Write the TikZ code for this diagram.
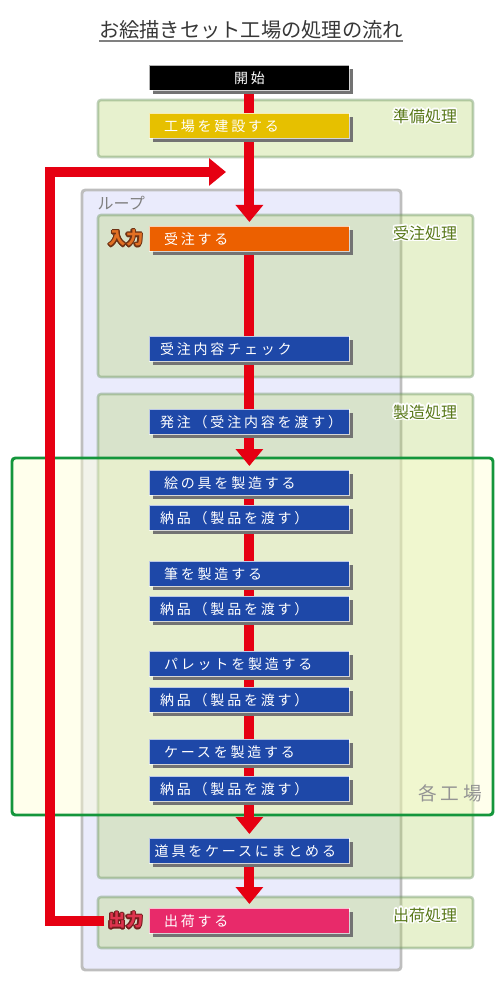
\documentclass[tikz,border=0pt]{standalone}
\usepackage{fontspec}
\setmainfont{Noto Sans CJK JP}
\newfontfamily\boxfont[LetterSpace=20]{Noto Sans CJK JP}
\usepackage{contour}
\contourlength{1.1pt}
\usetikzlibrary{arrows.meta,shadows}

\pgfdeclarelayer{groups}
\pgfdeclarelayer{flow}
\pgfsetlayers{groups,flow,main}

\definecolor{flowred}{RGB}{230,0,18}
\definecolor{procblue}{RGB}{30,72,168}
\definecolor{buildyellow}{RGB}{230,192,0}
\definecolor{orderorange}{RGB}{236,96,0}
\definecolor{shippink}{RGB}{232,42,106}
\definecolor{loopfill}{RGB}{234,235,252}
\definecolor{loopedge}{RGB}{190,190,190}
\definecolor{groupfill}{RGB}{176,210,93}
\definecolor{groupedge}{RGB}{110,150,100}
\definecolor{grouptext}{RGB}{88,120,24}
\definecolor{factoryedge}{RGB}{20,150,60}
\definecolor{factoryfill}{RGB}{255,255,208}
\definecolor{titlegray}{RGB}{55,55,55}
\definecolor{inedge}{RGB}{110,50,20}
\definecolor{outedge}{RGB}{115,28,28}

\tikzset{
  procbox/.style={anchor=north west, fill=procblue, draw=white, draw opacity=0.7,
    line width=0.6pt, text=white, font=\boxfont\fontsize{10.5}{12}\selectfont,
    text width=134pt, inner xsep=8pt, inner ysep=0pt, minimum height=18.75pt, align=left,
    drop shadow={shadow xshift=2.4pt, shadow yshift=-2.4pt, fill=black!55, opacity=1}},
  indent/.style={text width=128pt, inner xsep=11pt},
  group/.style={draw=groupedge, draw opacity=0.45, line width=1.9pt, fill=groupfill,
    fill opacity=0.3, rounded corners=2.2pt},
  grouplabel/.style={text=grouptext, font=\fontsize{12}{14}\selectfont},
  iolabel/.style={inner sep=0pt, font=\bfseries\fontsize{13}{15}\selectfont},
  flowline/.style={draw=flowred, line width=7.5pt},
  flowarrow/.style={flowline, -{Triangle[width=20pt,length=12.75pt]}, shorten >=3pt},
}

\begin{document}
\begin{tikzpicture}[x=0.75pt,y=0.75pt,yscale=-1]
\path[use as bounding box] (0,0) rectangle (500,1005);

% title
\node (title) at (251,30) [text=titlegray, font=\fontsize{15.2}{18}\selectfont] {お絵描きセット工場の処理の流れ};
\draw[gray, line width=1.5pt] (99,41) -- (403,41);

% process boxes
\node (start) [procbox, fill=black, align=center] at (149,65) {開始};
\node (build) [procbox, indent, fill=buildyellow] at (149,113) {工場を建設する};
\node (order) [procbox, indent, fill=orderorange] at (149,226) {受注する};
\node (check) [procbox] at (149,336) {受注内容チェック};
\node (send) [procbox] at (149,409) {発注（受注内容を渡す）};
\node (paint) [procbox, indent] at (149,470) {絵の具を製造する};
\node (deliva) [procbox] at (149,505) {納品（製品を渡す）};
\node (brush) [procbox, indent] at (149,561) {筆を製造する};
\node (delivb) [procbox] at (149,596) {納品（製品を渡す）};
\node (palette) [procbox, indent] at (149,651) {パレットを製造する};
\node (delivc) [procbox] at (149,687) {納品（製品を渡す）};
\node (case) [procbox, indent] at (149,739) {ケースを製造する};
\node (delivd) [procbox] at (149,776) {納品（製品を渡す）};
\node (pack) [procbox, text width=142pt, inner xsep=4pt] at (149,838) {道具をケースにまとめる};
\node (ship) [procbox, indent, fill=shippink] at (149,908) {出荷する};

% input / output marks
\node (inlbl) [iolabel, text={rgb,255:red,226;green,112;blue,36}] at (126,239) {\contourlength{0.8pt}\contour{inedge}{入力}};
\node (outlbl) [iolabel, text={rgb,255:red,222;green,52;blue,78}] at (126,921) {\contourlength{0.8pt}\contour{outedge}{出力}};

% group labels
\node (preplbl) [grouplabel] at (425,117) {\contour{white}{準備処理}};
\node (recvlbl) [grouplabel] at (425,234) {\contour{white}{受注処理}};
\node (makelbl) [grouplabel] at (425,413) {\contour{white}{製造処理}};
\node (shiplbl) [grouplabel] at (425,916) {\contour{white}{出荷処理}};
\node (looplbl) [anchor=west, text=gray, font=\fontsize{12}{14}\selectfont] at (93,203) {ループ};
\node (factlbl) [text=black!42, font=\boxfont\fontsize{14}{16}\selectfont] at (450,793) {各工場};

\begin{pgfonlayer}{groups}
\draw[fill=loopfill, draw=loopedge, line width=2.2pt, rounded corners=2.5pt] (82,190) rectangle (401,970);
\draw[group] (98,100) rectangle (473,157);
\draw[group] (98,215) rectangle (473,377);
\draw[group] (98,394) rectangle (473,878);
\draw[group] (98,897) rectangle (473,948);
\draw[draw=factoryedge, line width=2.2pt, fill=factoryfill, fill opacity=0.4, rounded corners=2.5pt] (12,458) rectangle (493,815);
\end{pgfonlayer}

% red flow
\begin{pgfonlayer}{flow}
\coordinate (looptop) at (226,172);
\coordinate (backx) at (50,0);
\draw[flowline] (start.south) -- (build.north);
\draw[flowarrow] (build.south) -- (order.north);
\draw[flowline] (order.south) -- (check.north);
\draw[flowline] (check.south) -- (send.north);
\draw[flowarrow] (send.south) -- (paint.north);
\draw[flowline] (paint.south) -- (delivd.north);
\draw[flowarrow] (delivd.south) -- (pack.north);
\draw[flowarrow] (pack.south) -- (ship.north);
\draw[flowarrow, shorten >=0pt] ([xshift=-3pt]outlbl.west) -| (backx |- looptop) -- (looptop);
\end{pgfonlayer}

\end{tikzpicture}
\end{document}
